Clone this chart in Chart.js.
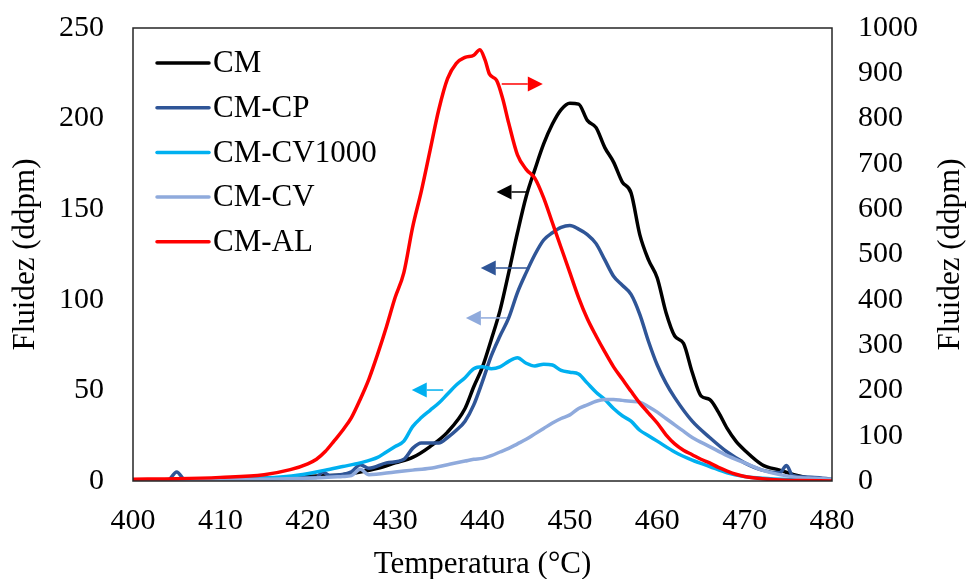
<!DOCTYPE html>
<html>
<head>
<meta charset="utf-8">
<script src="https://cdn.jsdelivr.net/npm/chart.js@4.4.1/dist/chart.umd.min.js"></script>
<style>
  html, body { margin: 0; padding: 0; background: #fff; }
  #wrap { width: 966px; height: 579px; }
</style>
</head>
<body>
<div id="wrap"><canvas id="fluidez"></canvas></div>
<script>
// Fluidez Gieseler vs temperatura
const cmTemp = [400, 405, 410, 415, 420, 424, 426, 428, 430, 432, 434, 436, 438, 439, 440, 441, 442, 443, 444, 445, 446, 447, 448, 449, 450, 451, 452, 453, 454, 455, 456, 457, 458, 459, 460, 461, 462, 463, 464, 465, 466, 467, 468, 469, 470, 472, 474, 476, 478, 480];
const cmVal  = [0, 0.5, 1, 1.5, 2.5, 3.5, 5, 7, 10, 13, 19, 27, 40, 52, 63, 78, 94, 115, 137, 157, 172, 186, 197, 205, 208.5, 208, 199, 195, 184, 176, 165, 159, 136, 122, 112, 93, 80, 76, 60, 47, 45, 38, 29, 22, 17, 9, 6, 3, 1, 0];

const cpTemp = [400, 404, 405, 406, 410, 415, 420, 421, 421.7, 422.5, 425, 426, 427, 429, 431, 432, 433, 435, 436, 437, 438, 439, 440, 441, 442, 443, 444, 445, 446, 447, 448, 449, 450, 451, 452, 453, 454, 455, 456, 457, 458, 459, 460, 461, 462, 464, 466, 468, 470, 472, 474, 474.8, 475.5, 478, 480];
const cpVal  = [0, 0.5, 5, 0.5, 0.5, 1, 2, 2, 5, 3, 5, 9, 7, 10, 12, 18, 21, 21, 24, 28, 33, 42, 55, 69, 80, 90, 104, 115, 125, 133, 137, 140, 141, 139, 136, 131, 122, 113, 108, 103, 92, 77, 64, 54, 46, 33, 24, 16, 10, 6, 4.5, 8.5, 3, 2, 1];

const cv1000Temp = [400, 405, 410, 415, 419, 422, 424, 426, 428, 429, 430, 431, 432, 433, 434, 435, 436, 437, 438, 439, 440, 441, 442, 443, 444, 445, 446, 447, 448, 449, 450, 451, 452, 453, 454, 455, 456, 457, 458, 459, 460, 462, 464, 466, 468, 470, 472, 475, 480];
const cv1000Val  = [0, 0.5, 1, 1.6, 3.3, 6, 8, 10, 13, 16, 19, 22, 30, 35, 39, 43, 48, 53, 57, 62, 63, 62, 63, 66, 68, 65, 63.5, 64.5, 64, 61, 60, 59, 54, 49, 45, 40, 36, 33, 28, 25, 22, 16, 11.5, 8, 4.5, 2.5, 1.5, 0.8, 0.5];

const cvTemp = [400, 410, 415, 420, 424, 425, 426, 427, 430, 432, 434, 436, 438, 439, 440, 441, 442, 443, 444, 445, 446, 447, 448, 449, 450, 451, 452, 453, 454, 455, 456, 457, 458, 459, 460, 461, 462, 463, 464, 466, 468, 470, 472, 474, 476, 478, 480];
const cvVal  = [0, 0.5, 1, 1.5, 2.5, 3, 6.5, 3.5, 5, 6, 7, 9, 11, 12, 12.5, 14, 16, 18, 20.5, 23, 26, 29, 32, 34.5, 36.5, 40, 42, 44, 45, 45, 44.5, 44, 43.5, 41, 38, 34.5, 31, 27.5, 24, 19, 14, 10, 6, 3.5, 2, 1.5, 1];

// CM-AL goes on the right axis (0-1000)
const alTemp = [400, 405, 410, 415, 418, 420, 421, 422, 423, 424, 425, 426, 427, 428, 429, 430, 431, 432, 433, 434, 435, 436, 437, 438, 439, 439.7, 440.3, 440.8, 441.6, 442.3, 443, 444, 445, 446, 447, 448, 449, 450, 451, 452, 453, 454, 455, 456, 457, 458, 459, 460, 461, 462, 463, 464, 465, 466, 467, 468, 469, 470, 472, 474, 476, 480];
const alVal  = [4, 5, 8, 14, 25, 38, 48, 65, 88, 112, 140, 180, 225, 280, 340, 405, 460, 560, 640, 730, 820, 888, 922, 935, 940, 952, 929, 898, 885, 845, 790, 720, 688, 668, 625, 570, 515, 460, 405, 358, 320, 285, 252, 225, 198, 172, 150, 128, 102, 82, 68, 58, 48, 40, 30, 22, 15, 10, 5, 2, 1, 0];

const seriesLabels = ['CM', 'CM-CP', 'CM-CV1000', 'CM-CV', 'CM-AL'];
const seriesColors = ['#000000', '#2F5597', '#00B0F0', '#8FAADC', '#FF0000'];

// arrows pointing at the axis each curve belongs to (temp from, temp to, left-axis value)
const arrowFrom  = [445.2, 445.2, 435.5, 442.8, 442.2];
const arrowTo    = [441.6, 439.8, 431.9, 438.1, 446.9];
const arrowLevel = [159.5, 117.5, 50.2, 90, 219.1];

const xTicks = [400, 410, 420, 430, 440, 450, 460, 470, 480];

const FONT = '"Liberation Serif", "Times New Roman", serif';
const axisTitle = 'Fluidez (ddpm)';

function pairs(xs, ys) {
  return xs.map((x, i) => ({ x: x, y: ys[i] }));
}

const datasets = [
  [cmTemp, cmVal], [cpTemp, cpVal], [cv1000Temp, cv1000Val], [cvTemp, cvVal], [alTemp, alVal]
].map((d, i) => ({
  label: seriesLabels[i],
  data: pairs(d[0], d[1]),
  borderColor: seriesColors[i],
  backgroundColor: seriesColors[i],
  borderWidth: 3.5,
  pointRadius: 0,
  tension: 0.35,
  cubicInterpolationMode: 'monotone',
  yAxisID: i === 4 ? 'y2' : 'y',
  order: i === 4 ? 0 : 5 - i
}));

// frame, arrows, legend and the right axis title (reads bottom-up like the left one)
const decorations = {
  id: 'decorations',
  afterDatasetsDraw(chart) {
    const ctx = chart.ctx;
    const a = chart.chartArea;
    const xs = chart.scales.x;
    const ys = chart.scales.y;
    ctx.save();

    // arrows
    arrowFrom.forEach((f, i) => {
      const x0 = xs.getPixelForValue(f);
      const x1 = xs.getPixelForValue(arrowTo[i]);
      const yy = ys.getPixelForValue(arrowLevel[i]);
      const dir = x1 > x0 ? 1 : -1;
      const headLen = 15, headHalf = 7.5;
      ctx.strokeStyle = seriesColors[i];
      ctx.fillStyle = seriesColors[i];
      ctx.lineWidth = 1.5;
      ctx.beginPath();
      ctx.moveTo(x0, yy);
      ctx.lineTo(x1 - dir * headLen, yy);
      ctx.stroke();
      ctx.beginPath();
      ctx.moveTo(x1, yy);
      ctx.lineTo(x1 - dir * headLen, yy - headHalf);
      ctx.lineTo(x1 - dir * headLen, yy + headHalf);
      ctx.closePath();
      ctx.fill();
    });

    // legend
    ctx.font = '31px ' + FONT;
    ctx.textBaseline = 'middle';
    ctx.textAlign = 'left';
    seriesLabels.forEach((lab, i) => {
      const yy = 63 + i * 44.7;
      ctx.strokeStyle = seriesColors[i];
      ctx.lineWidth = 3.5;
      ctx.lineCap = 'round';
      ctx.beginPath();
      ctx.moveTo(157, yy);
      ctx.lineTo(209, yy);
      ctx.stroke();
      ctx.fillStyle = '#000';
      ctx.fillText(lab, 213, yy + 1);
    });

    // frame
    ctx.lineCap = 'butt';
    ctx.strokeStyle = '#262626';
    ctx.lineWidth = 1.5;
    ctx.strokeRect(a.left, a.top, a.right - a.left, a.bottom - a.top);

    // right axis title
    ctx.translate(951, (a.top + a.bottom) / 2);
    ctx.rotate(-Math.PI / 2);
    ctx.textAlign = 'center';
    ctx.fillStyle = '#000';
    ctx.fillText(axisTitle, 0, 0);
    ctx.restore();
  }
};

new Chart(document.getElementById('fluidez'), {
  type: 'line',
  data: { datasets: datasets },
  options: {
    responsive: true,
    maintainAspectRatio: false,
    animation: false,
    layout: { padding: { top: 28, left: 0, right: 0, bottom: 0 } },
    plugins: {
      legend: { display: false },
      tooltip: { enabled: false }
    },
    scales: {
      x: {
        type: 'linear',
        min: 400,
        max: 480,
        afterFit: s => { s.height = 98; s.paddingLeft = 0; s.paddingRight = 0; },
        afterBuildTicks: s => { s.ticks = xTicks.map(v => ({ value: v })); },
        grid: { display: false },
        border: { display: false },
        ticks: { color: '#000', padding: 14, font: { family: FONT, size: 30 } },
        title: {
          display: true,
          text: 'Temperatura (°C)',
          color: '#000',
          padding: { top: 0, bottom: -4 },
          font: { family: FONT, size: 31 }
        }
      },
      y: {
        position: 'left',
        min: 0,
        max: 250,
        afterFit: s => { s.width = 133; s.paddingTop = 0; s.paddingBottom = 0; },
        grid: { display: false },
        border: { display: false },
        ticks: { stepSize: 50, color: '#000', padding: 21, font: { family: FONT, size: 30 } },
        title: {
          display: true,
          text: axisTitle,
          color: '#000',
          padding: { top: 7, bottom: 0 },
          font: { family: FONT, size: 31 }
        }
      },
      y2: {
        position: 'right',
        min: 0,
        max: 1000,
        afterFit: s => { s.width = 134; s.paddingTop = 0; s.paddingBottom = 0; },
        grid: { display: false },
        border: { display: false },
        ticks: {
          stepSize: 100,
          color: '#000',
          padding: 18,
          font: { family: FONT, size: 30 },
          callback: v => String(v)
        }
      }
    }
  },
  plugins: [decorations]
});
</script>
</body>
</html>
